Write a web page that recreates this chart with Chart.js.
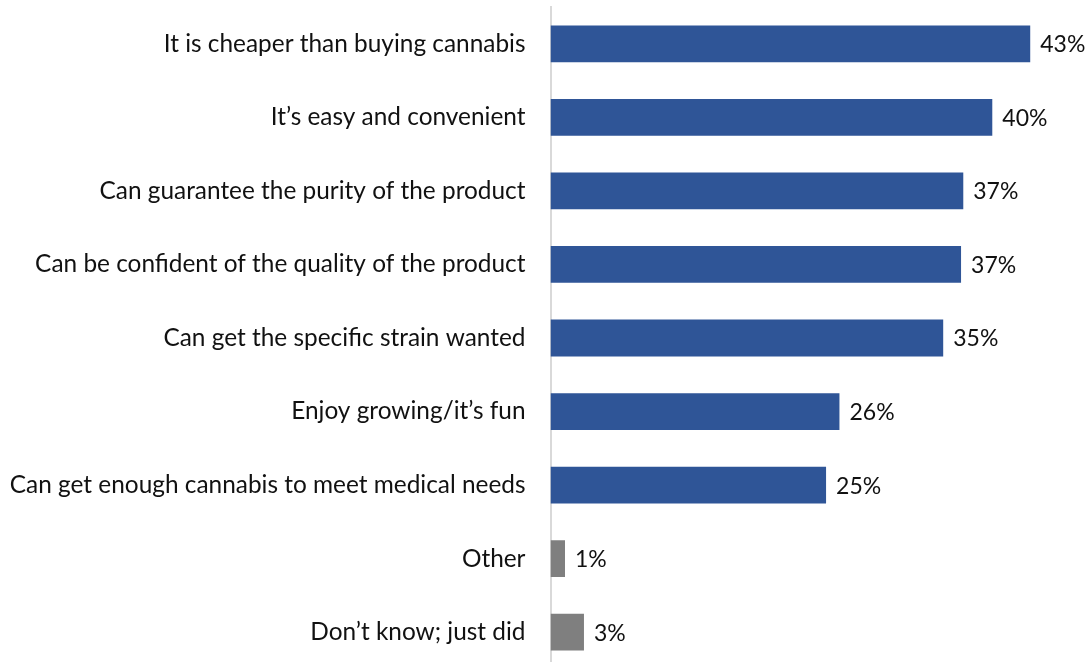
<!DOCTYPE html>
<html>
<head>
<meta charset="utf-8">
<script src="https://cdn.jsdelivr.net/npm/chart.js@4"></script>
<style>
  html, body { margin: 0; padding: 0; background: #fff; overflow: hidden; }
  #wrap { position: relative; width: 1091px; height: 669px; }
</style>
</head>
<body>
<div id="wrap"><canvas id="c"></canvas></div>
<script>
const categories = [
  "It is cheaper than buying cannabis",
  "It\u2019s easy and convenient",
  "Can guarantee the purity of the product",
  "Can be confident of the quality of the product",
  "Can get the specific strain wanted",
  "Enjoy growing/it\u2019s fun",
  "Can get enough cannabis to meet medical needs",
  "Other",
  "Don\u2019t know; just did"
];
const values = [43.0, 39.6, 37.0, 36.8, 35.2, 25.9, 24.7, 1.3, 3.0];
const valueLabels = ["43%", "40%", "37%", "37%", "35%", "26%", "25%", "1%", "3%"];
const barColors = ["#2F5597", "#2F5597", "#2F5597", "#2F5597", "#2F5597", "#2F5597", "#2F5597", "#7F7F7F", "#7F7F7F"];

const FONT = "Lato, 'Open Sans', sans-serif";

const dataLabelPlugin = {
  id: "dataLabels",
  afterDatasetsDraw(chart) {
    const ctx = chart.ctx;
    const meta = chart.getDatasetMeta(0);
    ctx.save();
    ctx.font = "23px " + FONT;
    ctx.fillStyle = "#111111";
    ctx.textAlign = "left";
    ctx.textBaseline = "middle";
    meta.data.forEach((el, i) => {
      ctx.fillText(valueLabels[i], el.x + 10, el.y + 1);
    });
    ctx.restore();
  }
};

new Chart(document.getElementById("c"), {
  type: "bar",
  data: {
    labels: categories,
    datasets: [{
      data: values,
      backgroundColor: barColors,
      borderWidth: 0,
      barPercentage: 0.5,
      categoryPercentage: 1.0
    }]
  },
  options: {
    indexAxis: "y",
    responsive: true,
    maintainAspectRatio: false,
    animation: false,
    layout: { padding: { top: 7, right: 5, bottom: 0, left: 0 } },
    plugins: {
      legend: { display: false },
      tooltip: { enabled: false }
    },
    scales: {
      x: {
        min: 0,
        max: 48,
        display: false,
        grid: { display: false }
      },
      y: {
        afterFit(scale) {
          scale.width = 550.5;
          scale.paddingTop = 0;
          scale.paddingBottom = 0;
        },
        grid: { display: false, drawTicks: false },
        border: { display: true, color: "#d9d9d9", width: 2 },
        ticks: {
          padding: 25,
          color: "#111111",
          font: { family: FONT, size: 24.4 }
        }
      }
    }
  },
  plugins: [dataLabelPlugin]
});
</script>
</body>
</html>
